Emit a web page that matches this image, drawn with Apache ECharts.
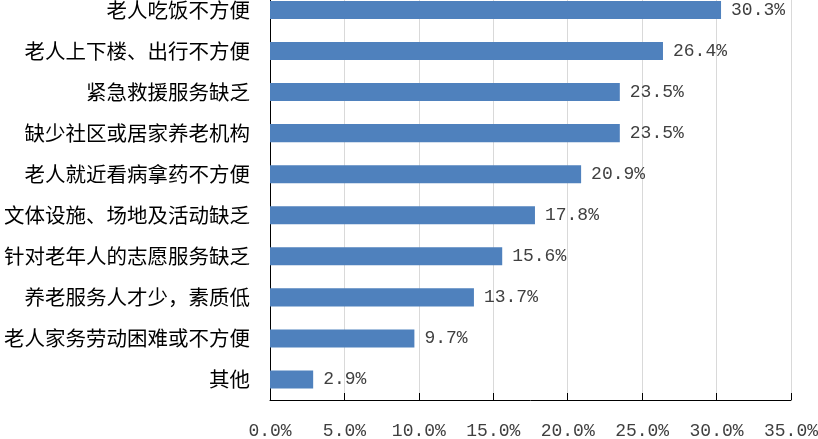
<!DOCTYPE html>
<html><head><meta charset="utf-8">
<script src="https://cdn.jsdelivr.net/npm/echarts@6/dist/echarts.min.js"></script>
<style>html,body{margin:0;padding:0;background:#fff}#c{width:818px;height:439px}</style>
</head><body><div id="c"></div>
<script>
const categories = ['老人吃饭不方便','老人上下楼、出行不方便','紧急救援服务缺乏','缺少社区或居家养老机构','老人就近看病拿药不方便','文体设施、场地及活动缺乏','针对老年人的志愿服务缺乏','养老服务人才少，素质低','老人家务劳动困难或不方便','其他'];
const values = [30.3, 26.4, 23.5, 23.5, 20.9, 17.8, 15.6, 13.7, 9.7, 2.9];
const xTicks = [0, 5, 10, 15, 20, 25, 30, 35];

const chart = echarts.init(document.getElementById('c'));
chart.setOption({
  animation: false,
  grid: { left: 270, right: 27, top: -10.6, bottom: 39, containLabel: false, outerBoundsMode: 'none' },
  xAxis: {
    type: 'value', min: xTicks[0], max: xTicks[xTicks.length-1], interval: 5,
    axisLine: { show: true, lineStyle: { color: '#000', width: 1 } },
    axisTick: { show: true, inside: true, length: 7, lineStyle: { color: '#000' } },
    splitLine: { show: true, lineStyle: { color: '#d9d9d9', width: 1 } },
    axisLabel: { margin: 22, color: '#404040', fontFamily: 'Liberation Mono', fontSize: 18,
      formatter: v => v.toFixed(1) + '%' }
  },
  yAxis: {
    type: 'category', data: categories, inverse: true,
    axisLine: { show: true, lineStyle: { color: '#000', width: 1 } },
    axisTick: { show: false },
    axisLabel: { margin: 20, color: '#000', fontFamily: 'Noto Sans CJK SC', fontSize: 20.5 }
  },
  series: [{
    type: 'bar', data: values, barCategoryGap: '56%',
    itemStyle: { color: '#4f81bd' },
    label: { show: true, position: 'right', distance: 10, color: '#404040',
      fontFamily: 'Liberation Mono', fontSize: 18, formatter: p => p.value.toFixed(1) + '%' }
  }]
});
</script></body></html>
